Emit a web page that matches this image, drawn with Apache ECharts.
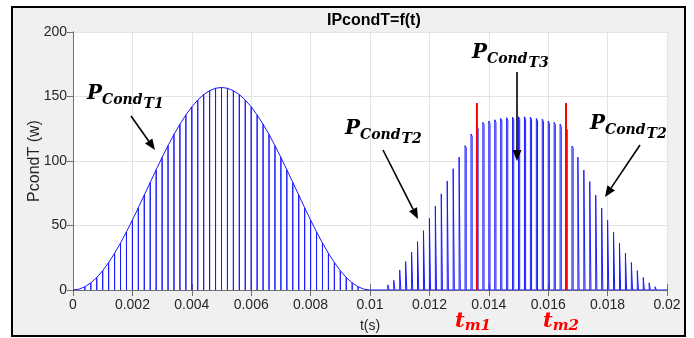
<!DOCTYPE html>
<html><head><meta charset="utf-8">
<script src="https://cdn.jsdelivr.net/npm/echarts@6/dist/echarts.min.js"></script>
<style>html,body{margin:0;padding:0;background:#fff}#c{width:694px;height:338px}</style>
</head><body><div id="c"></div>
<script>
// ---- data ----
const pulsePeriod = 0.0002;                 // s, switching period
const xTicks = [0, 0.002, 0.004, 0.006, 0.008, 0.01, 0.012, 0.014, 0.016, 0.018, 0.02];
const yTicks = [0, 50, 100, 150, 200];
// first half (0 .. 0.01 s): envelope value at each pulse (dip to 0)
const envT1 = [0, 0.6, 2.5, 5.5, 9.7, 15.0, 21.3, 28.5, 36.4, 45.1, 54.2, 63.8, 73.6, 83.4, 93.2, 102.8,
  111.9, 120.6, 128.5, 135.7, 142.0, 147.3, 151.5, 154.5, 156.4, 157.0, 156.4, 154.5, 151.5, 147.3, 142.0,
  135.7, 128.5, 120.6, 111.9, 102.8, 93.2, 83.4, 73.6, 63.8, 54.2, 45.1, 36.4, 28.5, 21.3, 15.0, 9.7, 5.5, 2.5, 0.6, 0];
// second half (0.01 .. 0.02 s): height of each narrow pulse
const pulseT2 = [0, 0.5, 1.5, 4, 7.5, 15.5, 22, 29.5, 37.5, 46, 55.5, 65, 74.5, 84.5, 94, 103, 112, 121,
  127, 130, 131, 132, 133, 133.6, 134, 134.3, 134.3, 134, 133, 132.5, 131, 130, 128.6, 126,
  111.6, 103, 93, 84, 73.6, 63.5, 54, 45, 36.4, 28.5, 21.3, 15, 9.7, 5.5, 2.5, 0.6, 0];
const tmTimes = [0.0136, 0.0166];
const tmHeight = 145;

// ---- build series ----
const pulseWidth = 0.00004;
const s1 = [];
envT1.forEach((v, k) => { const t = k * pulsePeriod; s1.push([t, v], [t, 0], [t, v]); });
const s2 = [];
pulseT2.forEach((v, k) => {
  const t = 0.01 + k * pulsePeriod;
  s2.push([t, 0], [t, v], [t + pulseWidth, v * 0.985], [t + pulseWidth, 0]);
});

const chart = echarts.init(document.getElementById('c'), null, {renderer: 'canvas'});
const axCol = '#707070', txtCol = '#262626';
const FS = 'Liberation Sans, Arial, sans-serif';
const MF = 'DejaVu Serif, serif';
const mctx = document.createElement('canvas').getContext('2d');
function tw(text, size) { mctx.font = 'italic bold ' + size + 'px ' + MF; return mctx.measureText(text).width; }

function arrow(x1, y1, x2, y2) {
  const a = Math.atan2(y2 - y1, x2 - x1), L = 11, W = 4.5;
  const bx = x2 - L * Math.cos(a), by = y2 - L * Math.sin(a);
  const px = -Math.sin(a) * W, py = Math.cos(a) * W;
  return [
    {type: 'line', shape: {x1, y1, x2: bx, y2: by}, style: {stroke: '#000', lineWidth: 1.6}, z: 50},
    {type: 'polygon', shape: {points: [[x2, y2], [bx + px, by + py], [bx - px, by - py]]}, style: {fill: '#000'}, z: 50}
  ];
}
// chained math label: parts [text, fontSize, dyBaseline, gapBefore]
function mathChain(x, base, parts, color) {
  let cx = x; const out = [];
  parts.forEach(p => {
    cx += p[3];
    out.push({type: 'text', x: cx, y: base + p[2] + 0.18 * p[1], z: 50,
      style: {text: p[0], font: 'italic bold ' + p[1] + 'px ' + MF, fill: color, textVerticalAlign: 'bottom'}});
    cx += tw(p[0], p[1]);
  });
  return out;
}
function pLabel(x, base, sub) {
  return mathChain(x, base, [['P', 20, 0, 0], ['Cond', 14, 5, 0], [sub, 14, 9, 1]], '#000');
}

const graphic = [
  {type: 'rect', shape: {x: 12, y: 7, width: 673, height: 329}, style: {fill: '#f0f0f0', stroke: '#000', lineWidth: 2}, z: -100},
  ...pLabel(87, 100, 'T1'), ...arrow(131, 116, 155, 150),
  ...pLabel(345, 135, 'T2'), ...arrow(383, 150, 418, 219),
  ...pLabel(472, 59, 'T3'), ...arrow(517, 72, 517, 161),
  ...pLabel(590, 130, 'T2'), ...arrow(640, 145, 605, 197),
  ...mathChain(455, 328, [['t', 21, 0, 0], ['m1', 15, 3, 0]], '#ff0000'),
  ...mathChain(543, 328, [['t', 21, 0, 0], ['m2', 15, 3, 0]], '#ff0000')
];

const tmSeries = tmTimes.map(t => ({type: 'line', xAxisIndex: 0, yAxisIndex: 0, data: [[t, 0], [t, tmHeight]],
  showSymbol: false, lineStyle: {color: '#ff0000', width: 2}, z: 5, silent: true, animation: false}));

chart.setOption({
  backgroundColor: '#fff',
  animation: false,
  title: {text: 'IPcondT=f(t)', left: 322, top: 8, textStyle: {fontFamily: FS, fontSize: 16, fontWeight: 'bold', color: '#000'}},
  grid: {left: 73, right: 27, top: 32, bottom: 48, show: true, backgroundColor: '#fff', borderWidth: 0},
  xAxis: [
    {type: 'value', min: 0, max: 0.02, interval: 0.002, position: 'bottom',
     name: 't(s)', nameLocation: 'middle', nameGap: 29, nameTextStyle: {fontFamily: FS, fontSize: 14, color: txtCol},
     axisLine: {show: true, lineStyle: {color: axCol, width: 1}},
     axisTick: {show: true, inside: true, length: 6, lineStyle: {color: axCol}},
     axisLabel: {margin: 8, fontFamily: FS, fontSize: 14, color: txtCol, formatter: v => String(+v.toFixed(4))},
     splitLine: {show: true, lineStyle: {color: '#e3e3e3', width: 1}}},
    {type: 'value', min: 0, max: 0.02, interval: 0.002, position: 'top',
     axisLine: {show: true, lineStyle: {color: axCol, width: 1}},
     axisTick: {show: true, inside: true, length: 6, lineStyle: {color: axCol}},
     axisLabel: {show: false}, splitLine: {show: false}}
  ],
  yAxis: [
    {type: 'value', min: 0, max: 200, interval: 50, position: 'left',
     name: 'PcondT (w)', nameLocation: 'middle', nameGap: 30, nameMoveOverlap: false,
     nameTextStyle: {fontFamily: FS, fontSize: 16, color: txtCol},
     axisLine: {show: true, lineStyle: {color: axCol, width: 1}},
     axisTick: {show: true, inside: false, length: 5, lineStyle: {color: axCol}},
     axisLabel: {margin: 6, fontFamily: FS, fontSize: 14, color: txtCol},
     splitLine: {show: true, lineStyle: {color: '#e3e3e3', width: 1}}},
    {type: 'value', min: 0, max: 200, interval: 50, position: 'right',
     axisLine: {show: true, lineStyle: {color: axCol, width: 1}},
     axisTick: {show: true, inside: true, length: 6, lineStyle: {color: axCol}},
     axisLabel: {show: false}, splitLine: {show: false}}
  ],
  series: [
    {type: 'line', data: s1, showSymbol: false, lineStyle: {color: '#1a1aff', width: 1}, z: 3, silent: true},
    {type: 'line', data: s2, showSymbol: false, lineStyle: {color: '#1a1aff', width: 1}, z: 3, silent: true},
    ...tmSeries
  ],
  graphic: graphic
});
</script></body></html>
